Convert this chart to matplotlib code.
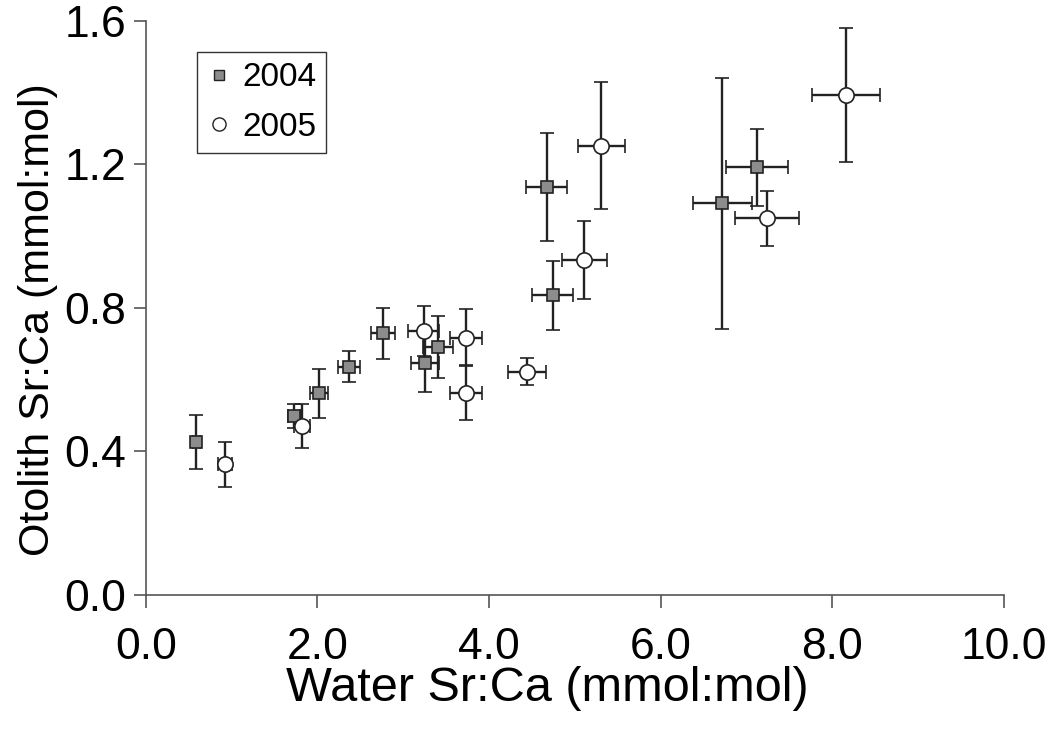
import matplotlib
matplotlib.use("Agg")
import matplotlib.pyplot as plt
from matplotlib.lines import Line2D

plt.rcParams['font.family'] = ['Liberation Sans', 'DejaVu Sans']

# 2004 (squares)
x2004 = [0.59, 1.73, 2.02, 2.37, 2.76, 3.40, 3.25, 4.67, 4.74, 7.12, 6.72]
y2004 = [0.426, 0.498, 0.561, 0.636, 0.729, 0.691, 0.645, 1.136, 0.835, 1.191, 1.091]
yerr2004 = [0.075, 0.034, 0.068, 0.042, 0.071, 0.086, 0.081, 0.151, 0.096, 0.107, 0.350]
xerr2004 = [0.04, 0.07, 0.105, 0.128, 0.14, 0.175, 0.163, 0.24, 0.24, 0.36, 0.34]

# 2005 (circles)
x2005 = [0.92, 1.82, 3.24, 3.73, 3.73, 4.44, 5.31, 5.11, 8.16, 7.24]
y2005 = [0.363, 0.470, 0.735, 0.716, 0.563, 0.622, 1.252, 0.933, 1.393, 1.049]
yerr2005 = [0.063, 0.062, 0.071, 0.079, 0.077, 0.038, 0.177, 0.108, 0.187, 0.077]
xerr2005 = [0.08, 0.097, 0.18, 0.19, 0.19, 0.22, 0.27, 0.26, 0.40, 0.37]

xticks = [0.0, 2.0, 4.0, 6.0, 8.0, 10.0]
yticks = [0.0, 0.4, 0.8, 1.2, 1.6]

fig = plt.figure(figsize=(10.52, 7.36), dpi=100)
ax = fig.add_axes([0.1385, 0.192, 0.9544 - 0.1385, 0.9719 - 0.192])

ecol = '#222222'
ax.errorbar(x2004, y2004, yerr=yerr2004, xerr=xerr2004, fmt='s', ms=8,
            mfc='#8c8c8c', mec='#222222', mew=1.2, ecolor=ecol, elinewidth=1.7,
            capsize=5, capthick=1.7, zorder=3)
ax.errorbar(x2005, y2005, yerr=yerr2005, xerr=xerr2005, fmt='o', ms=11,
            mfc='white', mec='#222222', mew=1.2, ecolor=ecol, elinewidth=1.7,
            capsize=5, capthick=1.7, zorder=3)

ax.set_xlim(0, 10)
ax.set_ylim(0, 1.6)
ax.set_xticks(xticks)
ax.set_yticks(yticks)
ax.set_xticklabels([f"{v:.1f}" for v in xticks])
ax.set_yticklabels([f"{v:.1f}" for v in yticks])
for s in ['top', 'right']:
    ax.spines[s].set_visible(False)
for s in ['left', 'bottom']:
    ax.spines[s].set_color('#555555')
    ax.spines[s].set_linewidth(1.2)
ax.tick_params(direction='out', length=9, width=1.2, color='#555555',
               labelsize=32)
ax.tick_params(axis='x', pad=14)
ax.tick_params(axis='y', pad=5)
ax.set_xlabel('Water Sr:Ca (mmol:mol)', fontsize=35)
ax.xaxis.set_label_coords(0.4676, -0.125)
ax.set_ylabel('Otolith Sr:Ca (mmol:mol)', fontsize=31)
ax.yaxis.set_label_coords(-0.102, 0.4786)

h1 = Line2D([], [], marker='s', ls='none', ms=7, mfc='#8c8c8c', mec='#222222', mew=1.0)
h2 = Line2D([], [], marker='o', ls='none', ms=9.5, mfc='white', mec='#222222', mew=1.0)
leg = ax.legend([h1, h2], ['2004', '2005'], loc='upper left',
                bbox_to_anchor=(0.0598, 0.945), fontsize=24, frameon=True,
                fancybox=False, edgecolor='black', handlelength=0.7,
                handletextpad=0.35, borderpad=0.3, labelspacing=0.55,
                borderaxespad=0)
leg.get_frame().set_linewidth(1.0)

fig.savefig('out.png', dpi=100)
